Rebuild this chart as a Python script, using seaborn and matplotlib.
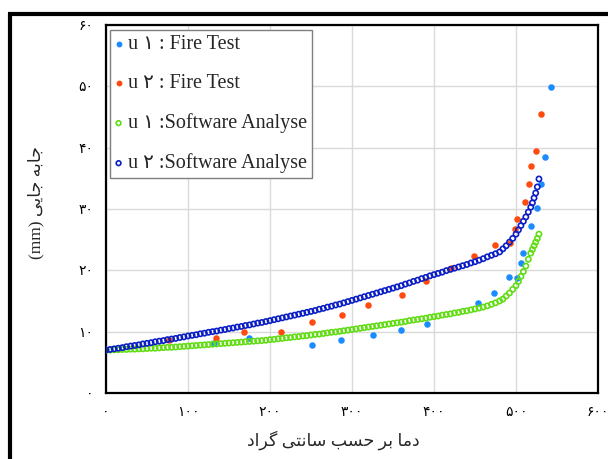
import numpy as np
import pandas as pd
import matplotlib
matplotlib.use("Agg")
import matplotlib.pyplot as plt
from matplotlib.lines import Line2D
from matplotlib.ticker import FixedLocator, FixedFormatter
import seaborn as sns

# ---------------- data ----------------
# Fire test, u1 (blue dots)
ft1_temp = [132, 174, 251, 287, 326, 360, 391, 454, 473, 491, 501, 506, 508, 518, 526, 531, 535, 543]
ft1_disp = [8.2, 8.9, 7.9, 8.6, 9.5, 10.2, 11.2, 14.7, 16.3, 18.9, 18.7, 21.2, 22.9, 27.2, 30.2, 34.1, 38.4, 49.9]

# Fire test, u2 (orange dots)
ft2_temp = [77, 134, 168, 213, 251, 288, 320, 361, 390, 421, 449, 474, 493, 499, 501, 511, 516, 518, 524, 530]
ft2_disp = [8.7, 9.0, 10.0, 10.0, 11.5, 12.7, 14.4, 16.0, 18.3, 20.4, 22.3, 24.2, 24.5, 26.8, 28.4, 31.1, 34.0, 37.0, 39.5, 45.5]

# Software analysis temperatures (shared by both software series)
sw_temp = [0, 5, 10, 15, 20, 25, 30, 35, 40, 45,
           50, 55, 60, 65, 70, 75, 80, 85, 90, 95,
           100, 105, 110, 115, 120, 125, 130, 135, 140, 145,
           150, 155, 160, 165, 170, 175, 180, 185, 190, 195,
           200, 205, 210, 215, 220, 225, 230, 235, 240, 245,
           250, 255, 260, 265, 270, 275, 280, 285, 290, 295,
           300, 305, 310, 315, 320, 325, 330, 335, 340, 345,
           350, 355, 360, 365, 370, 375, 380, 385, 390, 395,
           400, 405, 410, 415, 420, 425, 430, 435, 440, 445,
           450, 455, 460, 465, 470, 475, 480,
           484, 488, 492, 496, 500, 503, 506, 509, 512, 515, 518, 520, 522, 524, 526, 528]

# Software analysis, u1 (green open circles)
sw1_disp = [7.0, 7.0, 7.05, 7.05, 7.1, 7.1, 7.15, 7.15, 7.2, 7.2,
            7.25, 7.3, 7.3, 7.35, 7.4, 7.45, 7.45, 7.5, 7.55, 7.6,
            7.65, 7.7, 7.75, 7.8, 7.85, 7.9, 7.95, 8.0, 8.05, 8.1,
            8.15, 8.2, 8.25, 8.3, 8.35, 8.4, 8.45, 8.5, 8.55, 8.6,
            8.7, 8.75, 8.85, 8.9, 9.0, 9.05, 9.15, 9.2, 9.3, 9.35,
            9.45, 9.55, 9.6, 9.7, 9.8, 9.9, 9.95, 10.05, 10.15, 10.25,
            10.35, 10.45, 10.55, 10.65, 10.75, 10.85, 10.95, 11.05, 11.15, 11.25,
            11.35, 11.45, 11.55, 11.65, 11.8, 11.9, 12.0, 12.1, 12.2, 12.35,
            12.45, 12.55, 12.7, 12.8, 12.9, 13.05, 13.15, 13.3, 13.4, 13.55,
            13.7, 13.85, 14.0, 14.2, 14.45, 14.7, 15.0,
            15.3, 15.8, 16.3, 16.9, 17.5, 18.2, 19.0, 19.8, 20.7, 21.8, 22.8, 23.4, 24.0, 24.6, 25.2, 25.9]

# Software analysis, u2 (dark blue open circles)
sw2_disp = [7.0, 7.1, 7.2, 7.3, 7.4, 7.55, 7.65, 7.75, 7.85, 8.0,
            8.1, 8.2, 8.35, 8.45, 8.55, 8.7, 8.8, 8.9, 9.05, 9.15,
            9.3, 9.4, 9.5, 9.65, 9.75, 9.9, 10.0, 10.1, 10.25, 10.35,
            10.5, 10.6, 10.75, 10.85, 11.0, 11.1, 11.25, 11.4, 11.5, 11.65,
            11.8, 11.95, 12.1, 12.25, 12.4, 12.55, 12.7, 12.85, 13.0, 13.15,
            13.3, 13.45, 13.65, 13.8, 14.0, 14.15, 14.35, 14.5, 14.7, 14.9,
            15.1, 15.3, 15.5, 15.7, 15.9, 16.1, 16.3, 16.5, 16.7, 16.9,
            17.1, 17.3, 17.5, 17.75, 17.95, 18.2, 18.4, 18.65, 18.85, 19.1,
            19.3, 19.5, 19.7, 19.95, 20.15, 20.35, 20.55, 20.75, 20.95, 21.2,
            21.4, 21.65, 21.9, 22.2, 22.45, 22.7, 23.0,
            23.5, 24.0, 24.6, 25.2, 25.9, 26.6, 27.3, 28.0, 28.7, 29.5, 30.3, 31.0, 31.8, 32.6, 33.6, 34.9]

series_labels = ["u \u06f1 : Fire Test", "u \u06f2 : Fire Test",
                 "u \u06f1 :Software Analyse", "u \u06f2 :Software Analyse"]

x_ticks = [0, 100, 200, 300, 400, 500, 600]
x_tick_labels = ["\u06f0", "\u06f1\u06f0\u06f0", "\u06f2\u06f0\u06f0", "\u06f3\u06f0\u06f0",
                 "\u06f4\u06f0\u06f0", "\u06f5\u06f0\u06f0", "\u06f6\u06f0\u06f0"]
y_ticks = [0, 10, 20, 30, 40, 50, 60]
y_tick_labels = ["\u06f0", "\u06f1\u06f0", "\u06f2\u06f0", "\u06f3\u06f0",
                 "\u06f4\u06f0", "\u06f5\u06f0", "\u06f6\u06f0"]

# Persian axis titles written with Arabic presentation forms (logical order),
# reversed for left-to-right drawing.
xlabel_logical = ("\uFEA9\uFEE3\uFE8E \uFE91\uFEAE \uFEA3\uFEB4\uFE90 "
                  "\uFEB3\uFE8E\uFEE7\uFE98\uFEF0 \uFB94\uFEAE\uFE8D\uFEA9")
ylabel_logical = "\uFE9F\uFE8E\uFE91\uFEEA \uFE9F\uFE8E\uFEF3\uFEF0"
xlabel_text = xlabel_logical[::-1]
ylabel_text = "(mm) " + ylabel_logical[::-1]

# ---------------- styling ----------------
sns.set_style("white")
fams = ["Liberation Serif", "DejaVu Sans"]
plt.rcParams["font.family"] = fams

c_ft1 = "#1a8cff"
c_ft2 = "#ff4b10"
c_sw1 = "#62dc14"
c_sw2 = "#0a1ec4"

fig = plt.figure(figsize=(6.08, 4.59), dpi=100)
fig.patch.set_facecolor("white")
ax = fig.add_axes([106 / 608, 1 - 393 / 459, 492 / 608, 368 / 459])

df_ft1 = pd.DataFrame({"T": ft1_temp, "u": ft1_disp})
df_ft2 = pd.DataFrame({"T": ft2_temp, "u": ft2_disp})
df_sw1 = pd.DataFrame({"T": sw_temp, "u": sw1_disp})
df_sw2 = pd.DataFrame({"T": sw_temp, "u": sw2_disp})

sns.scatterplot(data=df_ft1, x="T", y="u", ax=ax, color=c_ft1, s=22,
                linewidth=0, marker="o", label=series_labels[0], zorder=3)
sns.scatterplot(data=df_ft2, x="T", y="u", ax=ax, color=c_ft2, s=22,
                linewidth=0, marker="o", label=series_labels[1], zorder=3)
sns.scatterplot(data=df_sw1, x="T", y="u", ax=ax, facecolor="none", edgecolor=c_sw1,
                s=14, linewidth=1.2, marker="o", label=series_labels[2], zorder=4)
sns.scatterplot(data=df_sw2, x="T", y="u", ax=ax, facecolor="none", edgecolor=c_sw2,
                s=14, linewidth=1.2, marker="o", label=series_labels[3], zorder=4)

ax.set_xlim(0, 600)
ax.set_ylim(0, 60)
ax.xaxis.set_major_locator(FixedLocator(x_ticks))
ax.xaxis.set_major_formatter(FixedFormatter(x_tick_labels))
ax.yaxis.set_major_locator(FixedLocator(y_ticks))
ax.yaxis.set_major_formatter(FixedFormatter(y_tick_labels))
ax.grid(True, color="#dadada", linewidth=1.0)
ax.set_axisbelow(True)
ax.tick_params(axis="both", length=0, labelsize=10, colors="black")
ax.tick_params(axis="x", pad=9)
ax.tick_params(axis="y", pad=9)
for sp in ax.spines.values():
    sp.set_color("black")
    sp.set_linewidth(1.6)

ax.set_xlabel(xlabel_text, fontsize=12.5, family=fams, va="center")
ax.xaxis.set_label_coords((333 - 106) / 492, (393 - 440) / 368)
ax.set_ylabel(ylabel_text, fontsize=12.5, family=fams, va="center")
ax.yaxis.set_label_coords((36 - 106) / 492, (393 - 203) / 368)

leg = ax.legend(loc="upper left", bbox_to_anchor=((110 - 106) / 492, (393 - 30) / 368),
                borderaxespad=0, frameon=True, fancybox=False, framealpha=1,
                edgecolor="#7f7f7f", prop={"family": fams, "size": 14.5},
                handlelength=0.35, handletextpad=0.3, borderpad=0.25,
                labelspacing=1.0, markerscale=0.9)
leg.get_frame().set_linewidth(1.0)

# outer thick frame of the original figure (left and top edges)
fig.add_artist(Line2D([9.5 / 608, 9.5 / 608], [0, 1 - 12.5 / 459], transform=fig.transFigure,
                      color="black", linewidth=3.0, solid_capstyle="butt"))
fig.add_artist(Line2D([8 / 608, 1], [1 - 14 / 459, 1 - 14 / 459], transform=fig.transFigure,
                      color="black", linewidth=3.0, solid_capstyle="butt"))

fig.savefig("out.png", dpi=100, facecolor="white")
